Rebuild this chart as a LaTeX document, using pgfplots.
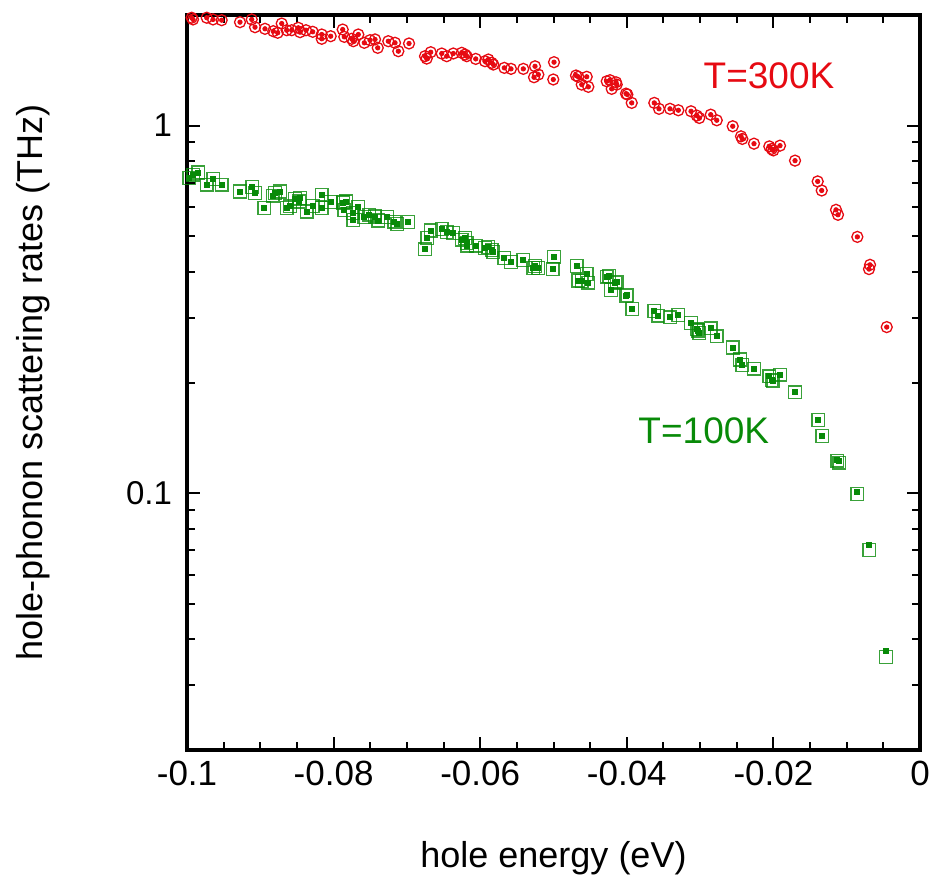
\documentclass[border=0pt]{standalone}
\usepackage{fontspec}
\setmainfont{Liberation Sans}
\usepackage{pgfplots}
\usepackage{pgfplotstable}
\pgfplotsset{compat=1.18}
\definecolor{hotred}{HTML}{E60A12}
\definecolor{coldgreen}{HTML}{088A08}

% T = 300 K
\pgfplotstableread{
x y
-0.09936 1.966
-0.09918 1.945
-0.09731 1.966
-0.09645 1.945
-0.09527 1.936
-0.09277 1.912
-0.09117 1.945
-0.09072 1.853
-0.08936 1.834
-0.08823 1.807
-0.08763 1.789
-0.08708 1.896
-0.08640 1.818
-0.08572 1.818
-0.08482 1.846
-0.08458 1.796
-0.08377 1.818
-0.08285 1.800
-0.08162 1.770
-0.08162 1.723
-0.08040 1.751
-0.07876 1.826
-0.07854 1.744
-0.07753 1.723
-0.07731 1.697
-0.07663 1.770
-0.07581 1.680
-0.07503 1.708
-0.07435 1.716
-0.07398 1.628
-0.07254 1.697
-0.07162 1.680
-0.07117 1.594
-0.06971 1.673
-0.06753 1.545
-0.06730 1.522
-0.06675 1.584
-0.06525 1.571
-0.06457 1.545
-0.06367 1.571
-0.06252 1.578
-0.06207 1.561
-0.06184 1.545
-0.06061 1.519
-0.05935 1.497
-0.05889 1.513
-0.05843 1.482
-0.05821 1.466
-0.05671 1.436
-0.05580 1.427
-0.05412 1.427
-0.05252 1.450
-0.05266 1.354
-0.05207 1.377
-0.04993 1.488
-0.05003 1.335
-0.04693 1.369
-0.04662 1.358
-0.04615 1.293
-0.04547 1.358
-0.04525 1.275
-0.04274 1.320
-0.04229 1.329
-0.04206 1.259
-0.04147 1.312
-0.04138 1.293
-0.04011 1.222
-0.03993 1.215
-0.03933 1.153
-0.03625 1.153
-0.03561 1.111
-0.03411 1.111
-0.03297 1.101
-0.03124 1.094
-0.03046 1.065
-0.03011 1.049
-0.02855 1.071
-0.02773 1.034
-0.02555 0.996
-0.02442 0.935
-0.02424 0.920
-0.02265 0.893
-0.02056 0.878
-0.02023 0.864
-0.02001 0.856
-0.01910 0.882
-0.01705 0.803
-0.01396 0.705
-0.01341 0.666
-0.01146 0.590
-0.01119 0.572
-0.00855 0.498
-0.00682 0.418
-0.00696 0.407
-0.00454 0.283
}\hotdata

% T = 100 K  (y: open square, yd: filled dot)
\pgfplotstableread{
x y yd
-0.09969 0.720 0.720
-0.09914 0.735 0.735
-0.09846 0.746 0.746
-0.09731 0.691 0.691
-0.09641 0.716 0.716
-0.09527 0.691 0.691
-0.09277 0.662 0.662
-0.09109 0.681 0.681
-0.09072 0.656 0.656
-0.08945 0.597 0.597
-0.08831 0.645 0.645
-0.08799 0.656 0.656
-0.08731 0.662 0.662
-0.08640 0.597 0.597
-0.08595 0.603 0.603
-0.08527 0.631 0.631
-0.08468 0.622 0.622
-0.08458 0.635 0.635
-0.08367 0.584 0.584
-0.08285 0.605 0.605
-0.08162 0.649 0.649
-0.08162 0.597 0.597
-0.08040 0.620 0.620
-0.07868 0.618 0.618
-0.07831 0.622 0.622
-0.07854 0.590 0.590
-0.07739 0.578 0.578
-0.07731 0.554 0.554
-0.07663 0.600 0.600
-0.07581 0.564 0.564
-0.07513 0.572 0.572
-0.07435 0.566 0.566
-0.07390 0.552 0.552
-0.07267 0.564 0.564
-0.07172 0.548 0.548
-0.07131 0.540 0.540
-0.06981 0.547 0.547
-0.06753 0.461 0.461
-0.06722 0.494 0.494
-0.06675 0.518 0.518
-0.06525 0.523 0.523
-0.06457 0.513 0.513
-0.06367 0.510 0.510
-0.06252 0.489 0.489
-0.06207 0.494 0.494
-0.06184 0.479 0.479
-0.06176 0.471 0.471
-0.06057 0.471 0.471
-0.05935 0.464 0.464
-0.05889 0.467 0.467
-0.05843 0.459 0.459
-0.05821 0.453 0.453
-0.05671 0.436 0.436
-0.05580 0.425 0.425
-0.05412 0.431 0.431
-0.05252 0.415 0.415
-0.05276 0.410 0.410
-0.05207 0.410 0.410
-0.04993 0.440 0.440
-0.05011 0.407 0.407
-0.04684 0.415 0.415
-0.04662 0.379 0.379
-0.04615 0.378 0.378
-0.04547 0.395 0.395
-0.04525 0.374 0.374
-0.04274 0.388 0.388
-0.04239 0.390 0.390
-0.04215 0.357 0.357
-0.04161 0.374 0.374
-0.04138 0.376 0.376
-0.04011 0.344 0.344
-0.03993 0.346 0.346
-0.03925 0.317 0.317
-0.03625 0.313 0.313
-0.03570 0.304 0.304
-0.03411 0.301 0.301
-0.03297 0.305 0.305
-0.03124 0.290 0.290
-0.03046 0.279 0.279
-0.03025 0.277 0.277
-0.03011 0.273 0.273
-0.02855 0.281 0.281
-0.02773 0.267 0.267
-0.02555 0.249 0.249
-0.02456 0.231 0.231
-0.02424 0.223 0.223
-0.02265 0.218 0.218
-0.02056 0.208 0.208
-0.02023 0.203 0.203
-0.02001 0.202 0.202
-0.01910 0.210 0.210
-0.01705 0.188 0.188
-0.01387 0.158 0.158
-0.01333 0.143 0.143
-0.01128 0.1225 0.1235
-0.01101 0.121 0.122
-0.00855 0.0994 0.1010
-0.00692 0.0700 0.0722
-0.00464 0.0358 0.0372
}\colddata

\begin{document}
\begin{tikzpicture}
\path[use as bounding box] (-93.5pt,-63.5pt) rectangle (374pt,375pt);
\begin{axis}[
  scale only axis,
  width=366.5pt, height=367.5pt,
  ymode=log,
  xmin=-0.1, xmax=0,
  ymin=0.02, ymax=2,
  clip=false,
  axis line style={line width=2pt},
  xtick={-0.1,-0.08,-0.06,-0.04,-0.02,0},
  xticklabels={-0.1,-0.08,-0.06,-0.04,-0.02,0},
  minor x tick num=3,
  ytick={0.1,1},
  yticklabels={0.1,1},
  minor ytick={0.02,0.03,0.04,0.05,0.06,0.07,0.08,0.09,0.2,0.3,0.4,0.5,0.6,0.7,0.8,0.9},
  tick align=inside,
  major tick length=6.5pt,
  minor tick length=4pt,
  every tick/.style={line width=1pt, black},
  xticklabel style={font=\fontsize{17.5}{20}\selectfont, yshift=-2pt},
  yticklabel style={font=\fontsize{16.5}{19}\selectfont, xshift=-4pt},
  xlabel={hole energy (eV)},
  ylabel={hole-phonon scattering rates (THz)},
  label style={font=\fontsize{18}{21}\selectfont},
  xlabel style={at={(axis description cs:0.5,-0.147)}, anchor=center},
  ylabel style={at={(axis description cs:-0.210,0.5)}, anchor=center},
]
\addplot[only marks, mark=o, mark size=2.75pt, hotred, mark options={line width=0.65pt}]
  table[x=x, y=y] {\hotdata};
\addplot[only marks, mark=*, mark size=1.1pt, hotred]
  table[x=x, y=y] {\hotdata};
\addplot[only marks, mark=square, mark size=3.2pt, coldgreen, mark options={line width=0.7pt, draw opacity=0.8}]
  table[x=x, y=y] {\colddata};
\addplot[only marks, mark=square*, mark size=1.25pt, coldgreen]
  table[x=x, y=yd] {\colddata};
\node[hotred, font=\fontsize{18.5}{21}\selectfont] at (rel axis cs:0.794,0.917) {T=300K};
\node[coldgreen, font=\fontsize{18.5}{21}\selectfont] at (rel axis cs:0.705,0.435) {T=100K};
\end{axis}
\end{tikzpicture}
\end{document}
